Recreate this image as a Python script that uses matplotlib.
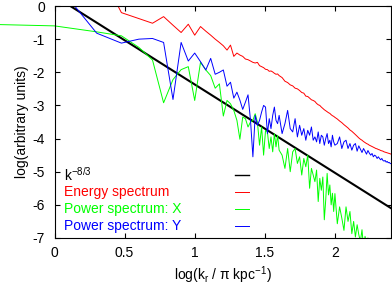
import numpy as np
import matplotlib
matplotlib.use("Agg")
import matplotlib.pyplot as plt
from matplotlib.patches import Rectangle

plt.rcParams["font.family"] = ["Liberation Sans", "DejaVu Sans"]
plt.rcParams["axes.unicode_minus"] = False
plt.rcParams["mathtext.fontset"] = "custom"
plt.rcParams["mathtext.rm"] = "Liberation Sans"

# wavenumber index of each spectrum sample
k = list(range(1, 41)) + list(range(42, 101, 2)) + list(range(104, 253, 4))

energy = [1.8, 1.25, -0.2, -0.38, -0.52, -0.32, -0.58, -0.8, -0.55, -0.88,
          -0.62, -0.76, -0.88, -1.0, -1.1, -1.2, -1.33, -1.18, -1.52, -1.42,
          -1.48, -1.52, -1.6, -1.62, -1.66, -1.7, -1.72, -1.7, -1.8, -1.83,
          -1.86, -1.91, -1.92, -1.97, -1.96, -1.99, -2.03, -2.06, -2.05, -2.1,
          -2.16, -2.27, -2.31, -2.38, -2.41, -2.48, -2.5, -2.55, -2.61, -2.63,
          -2.72, -2.73, -2.78, -2.83, -2.85, -2.88, -2.94, -2.98, -3.0, -3.05,
          -3.09, -3.13, -3.16, -3.19, -3.22, -3.24, -3.28, -3.31, -3.33, -3.36,
          -3.41, -3.47, -3.52, -3.58, -3.63, -3.68, -3.74, -3.78, -3.83, -3.88,
          -3.93, -3.98, -4.02, -4.05, -4.09, -4.12, -4.15, -4.17, -4.2, -4.22,
          -4.24, -4.26, -4.28, -4.3, -4.31, -4.33, -4.34, -4.36, -4.37, -4.38,
          -4.4, -4.41, -4.42, -4.43, -4.44, -4.45, -4.46, -4.47]

power_y = [0.75, -0.82, -1.12, -1.0, -0.98, -1.1, -2.82, -1.1, -1.66, -1.42,
           -1.68, -1.93, -1.58, -2.06, -2.0, -1.93, -2.42, -2.3, -2.78, -2.6,
           -2.84, -3.12, -2.9, -2.68, -3.45, -4.55, -3.3, -3.6, -3.45, -3.2,
           -3.0, -3.05, -3.85, -3.4, -3.7, -3.3, -3.05, -3.45, -3.55, -3.3,
           -3.85, -3.55, -3.15, -3.7, -3.8, -3.4, -3.95, -3.6, -3.9, -3.7,
           -4.05, -3.75, -3.9, -3.65, -4.05, -3.95, -4.1, -3.8, -4.15, -3.9,
           -3.95, -4.2, -4.0, -3.85, -4.15, -4.05, -4.25, -3.9, -4.1, -4.2,
           -4.15, -3.95, -4.3, -4.1, -4.05, -4.3, -4.15, -4.35, -4.2, -4.15,
           -4.38, -4.22, -4.32, -4.42, -4.3, -4.38, -4.47, -4.36, -4.44, -4.5,
           -4.45, -4.55, -4.5, -4.53, -4.6, -4.55, -4.6, -4.64, -4.6, -4.66,
           -4.68, -4.66, -4.71, -4.69, -4.73, -4.72, -4.75, -4.76]

# the X spectrum has one extra sample below k=1
power_x_k0 = 0.4
power_x_y0 = -0.56
power_x = [-0.6, -0.78, -0.9, -1.25, -1.63, -2.92, -2.22, -1.92, -1.83, -2.85,
           -1.7, -1.93, -2.1, -2.48, -2.35, -3.32, -2.85, -2.95, -3.15, -3.45,
           -4.02, -3.35, -3.4, -3.65, -3.5, -3.45, -3.25, -3.5, -4.2, -3.65,
           -4.5, -3.75, -3.8, -4.3, -3.95, -4.4, -3.85, -4.25, -3.9, -4.35,
           -4.5, -4.9, -4.3, -5.0, -4.4, -4.3, -4.75, -4.55, -5.1, -4.6,
           -4.85, -4.5, -5.5, -4.9, -5.1, -5.3, -4.95, -5.9, -5.2, -5.56,
           -5.16, -6.45, -5.85, -5.05, -5.7, -5.4, -6.0, -5.65, -6.2, -5.66,
           -6.57, -6.06, -6.4, -6.77, -6.06, -6.5, -6.2, -6.87, -6.5, -6.97,
           -6.6, -6.9, -7.1, -6.75, -7.3, -6.95, -7.15, -7.0, -7.4, -7.05,
           -7.3, -7.1, -7.5, -7.2, -7.6, -7.3, -7.7, -7.4, -7.8, -7.5,
           -7.9, -7.6, -8.0, -7.7, -8.1, -7.8, -8.2, -7.9]

# reference power law k^-8/3
slope = -8.0 / 3.0
offset = 0.3

logk = np.log10(k)

fig = plt.figure(figsize=(3.92, 2.91), dpi=100)
ax = fig.add_axes([54.5 / 392, 53 / 291, 336.5 / 392, 232 / 291])

xs = np.array([0.0, 2.4])
ax.plot(xs, offset + slope * xs, color="black", lw=1.5)
ax.plot(logk, energy, color="#ff0000", lw=0.7)
gl, = ax.plot(np.concatenate([[np.log10(power_x_k0)], logk]),
              [power_x_y0] + power_x, color="#00ff00", lw=0.7)
ax.plot(logk, power_y, color="#0000ff", lw=0.7)

# gnuplot lets the first X segment run past the left border
clip = Rectangle((-0.2, 0), 1.2, 1, transform=ax.transAxes)
gl.set_clip_path(clip)

ax.set_xlim(0, 2.4)
ax.set_ylim(-7, 0)
ax.set_xticks([0, 0.5, 1, 1.5, 2])
ax.set_xticklabels(["0", "0.5", "1", "1.5", "2"])
ax.set_yticks(range(-7, 1))
ax.tick_params(direction="in", length=3.5, width=0.8, top=True, right=True,
               labelsize=10)
ax.tick_params(axis="y", pad=7)
ax.tick_params(axis="x", pad=6)
for s in ax.spines.values():
    s.set_linewidth(0.8)

ax.set_ylabel("log(arbitrary units)", fontsize=10, labelpad=2)
ax.set_xlabel(r"log(k$_\mathregular{r}$ / π kpc$^\mathregular{-1}$)", fontsize=10,
              labelpad=3)

# gnuplot-style key: left-justified text, sample on the right
labels = [r"k$^\mathregular{-8/3}$", "Energy spectrum", "Power spectrum: X",
          "Power spectrum: Y"]
colors = ["black", "#ff0000", "#00ff00", "#0000ff"]
rows = [0.272, 0.198, 0.125, 0.052]
for lab, c, yy in zip(labels, colors, rows):
    ax.text(0.028, yy, lab, color=c, fontsize=10, va="center", ha="left",
            transform=ax.transAxes)
    ax.plot([0.536, 0.578], [yy, yy], color=c, lw=1.0 if c == "black" else 0.7,
            transform=ax.transAxes)

fig.savefig("out.png", dpi=100)
